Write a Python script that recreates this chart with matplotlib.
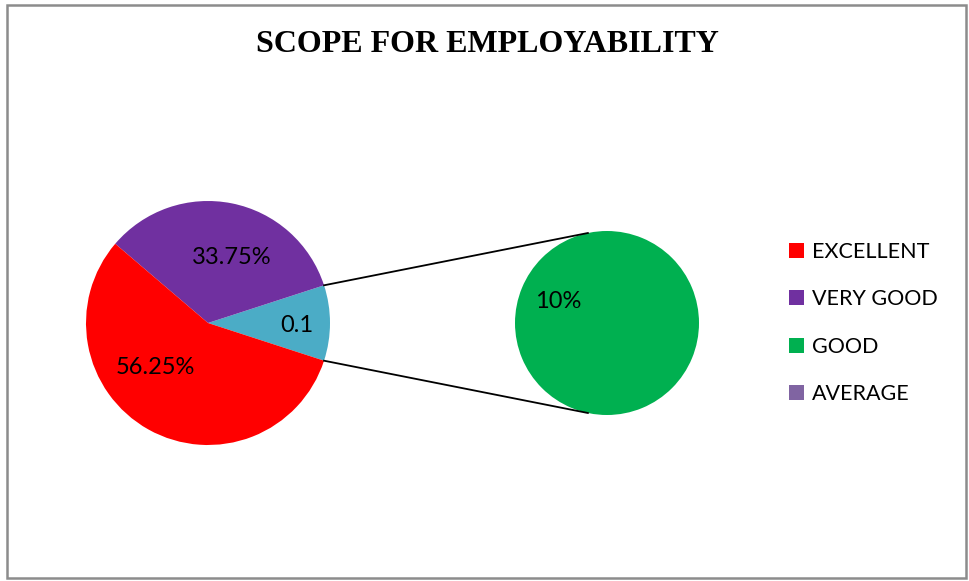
import matplotlib.pyplot as plt
import numpy as np
from matplotlib.patches import Rectangle

categories = ["EXCELLENT", "VERY GOOD", "GOOD", "AVERAGE"]
shares = [56.25, 33.75, 10.0, 0.0]
colors = ["#FF0000", "#7030A0", "#00B050", "#8064A2"]
other_color = "#4BACC6"
main_labels = ["56.25%", "33.75%", "0.1"]
sub_labels = ["10%", ""]

W, H = 969, 581
fig = plt.figure(figsize=(W / 100, H / 100), dpi=100)
ax = fig.add_axes([0, 0, 1, 1])

# main pie: excellent, very good, and the rest split out
other = shares[2] + shares[3]
main_vals = [other, shares[1], shares[0]]
main_cols = [other_color, colors[1], colors[0]]
c1, r1 = (208, 258), 122
start = -other / 100 * 360 / 2
w_main, _ = ax.pie(main_vals, colors=main_cols, startangle=start, center=c1,
                   radius=r1, counterclock=True, frame=True,
                   wedgeprops=dict(linewidth=0))

c2, r2 = (607, 258), 92
w_sub, _ = ax.pie(shares[2:], colors=colors[2:], startangle=90, center=c2,
                  radius=r2, counterclock=False, frame=True,
                  wedgeprops=dict(linewidth=0))

# connector lines
half = np.radians(other / 100 * 360 / 2)
for s in (1, -1):
    x0 = c1[0] + r1 * np.cos(half)
    y0 = c1[1] + s * r1 * np.sin(half)
    a2 = np.radians(102)
    x1 = c2[0] + r2 * np.cos(a2)
    y1 = c2[1] + s * r2 * np.sin(a2)
    ax.plot([x0, x1], [y0, y1], color="black", lw=1.3, zorder=3)

lab_font = dict(family="Lato", fontsize=17, color="black", ha="center", va="center")
ax.text(297, H - 326, main_labels[2], **lab_font)
ax.text(232, H - 257, main_labels[1], **lab_font)
ax.text(155, H - 367, main_labels[0], **lab_font)
ax.text(558, H - 302, sub_labels[0], **lab_font)

ax.text(487, H - 45, "SCOPE FOR EMPLOYABILITY", family="Liberation Serif",
        fontweight="bold", fontsize=23, ha="center", va="center")

handles = [w_main[2], w_main[1], w_sub[0], w_sub[1]]
leg = ax.legend(handles, categories, loc="center left",
                bbox_to_anchor=(770 / W, 1 - 323 / H), frameon=False,
                prop=dict(family="Lato", size=15.5), handlelength=0.7,
                handleheight=0.7, handletextpad=0.35, labelspacing=1.28)

ax.add_patch(Rectangle((7, 3), 959, 573, fill=False, edgecolor="#8c8c8c",
                       lw=1.8, zorder=5))

ax.set_xlim(0, W)
ax.set_ylim(0, H)
ax.set_aspect("auto")
ax.axis("off")

fig.savefig("out.png", dpi=100)
